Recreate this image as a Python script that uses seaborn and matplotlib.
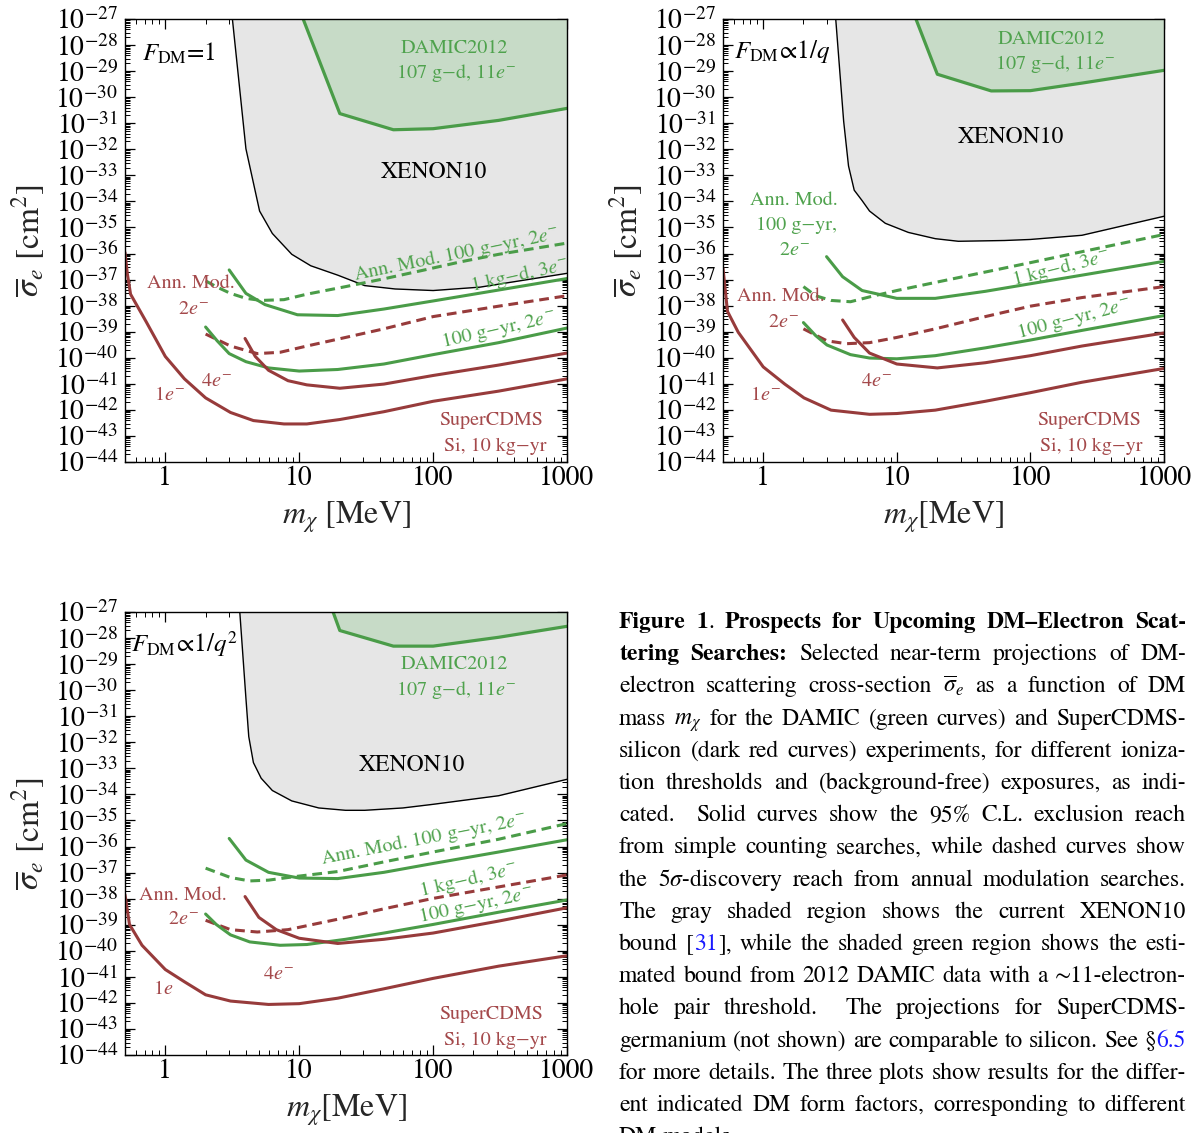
import matplotlib
matplotlib.use('Agg')
import matplotlib.pyplot as plt
import matplotlib.ticker as mticker
import seaborn as sns
import numpy as np

# figure size in pixels (dpi 100)
W, H = 1204, 1133

# ---------------- data: m_chi [MeV], log10(sigma_e / cm^2) ----------------
# panel 1: F_DM = 1
XENON_M_1 = [3.17, 4.0, 5.06, 6.3, 8.8, 12.2, 19.4, 30.8, 52, 100, 224, 1000]
XENON_S_1 = [-27.0, -31.98, -34.37, -35.23, -36.03, -36.47, -36.83, -37.23, -37.36, -37.42, -37.29, -36.76]
DAMIC_M_1 = [10.7, 20.1, 50.5, 100, 309, 1000]
DAMIC_S_1 = [-27.0, -30.63, -31.25, -31.21, -30.89, -30.43]
GAM_M_1 = [2.0, 2.44, 3.07, 4.0, 5.2, 7.7, 11.4, 22.2, 42.9, 82.8, 160, 309, 1000]
GAM_S_1 = [-37.05, -37.29, -37.53, -37.72, -37.80, -37.77, -37.56, -37.27, -36.97, -36.65, -36.32, -36.03, -35.60]
KGD_M_1 = [3.0, 4.0, 5.55, 9.7, 19.4, 42.9, 100, 309, 1000]
KGD_S_1 = [-36.63, -37.53, -37.96, -38.35, -38.38, -38.13, -37.82, -37.40, -36.96]
GYR_M_1 = [2.0, 2.44, 3.0, 4.0, 5.9, 10, 19.4, 42.9, 100, 309, 1000]
GYR_S_1 = [-38.82, -39.35, -39.84, -40.15, -40.39, -40.51, -40.45, -40.24, -39.88, -39.42, -38.86]
RAM_M_1 = [2.0, 3.07, 4.86, 7.2, 11.4, 22.2, 42.9, 100, 309, 1000]
RAM_S_1 = [-39.09, -39.55, -39.84, -39.79, -39.55, -39.22, -38.89, -38.42, -38.02, -37.62]
E4_M_1 = [3.94, 4.7, 5.9, 8.25, 11.4, 20.1, 42.9, 100, 309, 1000]
E4_S_1 = [-39.26, -39.95, -40.48, -40.88, -41.04, -41.17, -41.01, -40.68, -40.28, -39.82]
E1_M_1 = [0.5, 0.52, 0.55, 0.72, 1.0, 1.39, 2.0, 3.07, 4.55, 7.7, 11.4, 20.1, 42.9, 100, 309, 1000]
E1_S_1 = [-35.96, -36.76, -37.56, -38.62, -39.95, -40.81, -41.54, -42.10, -42.41, -42.54, -42.54, -42.37, -42.07, -41.67, -41.28, -40.81]

# panel 2: F_DM ~ 1/q
XENON_M_2 = [3.49, 4.0, 4.35, 4.8, 5.5, 6.25, 8.2, 12.2, 19.4, 28.9, 64, 100, 243, 1000]
XENON_S_2 = [-27.0, -30.92, -32.64, -33.57, -33.97, -34.37, -34.84, -35.19, -35.43, -35.53, -35.50, -35.46, -35.30, -34.57]
DAMIC_M_2 = [13.9, 20.1, 50.9, 100, 243, 1000]
DAMIC_S_2 = [-27.0, -29.12, -29.76, -29.75, -29.46, -28.97]
GAM_M_2 = [2.0, 2.47, 3.22, 4.5, 6.3, 10, 19.4, 46, 100, 243, 1000]
GAM_S_2 = [-37.27, -37.62, -37.80, -37.85, -37.66, -37.42, -37.11, -36.71, -36.35, -35.93, -35.27]
KGD_M_2 = [2.98, 3.93, 5.5, 10, 19.4, 46, 100, 243, 1000]
KGD_S_2 = [-36.12, -36.89, -37.42, -37.72, -37.72, -37.45, -37.16, -36.83, -36.30]
GYR_M_2 = [2.0, 2.47, 3.0, 4.5, 6.25, 10, 19.4, 46, 100, 243, 1000]
GYR_S_2 = [-38.65, -39.15, -39.51, -39.88, -40.01, -40.04, -39.92, -39.62, -39.32, -38.95, -38.38]
RAM_M_2 = [2.0, 3.0, 4.2, 6.25, 10, 19.4, 46, 100, 243, 1000]
RAM_S_2 = [-38.89, -39.35, -39.46, -39.42, -39.22, -38.89, -38.42, -38.02, -37.69, -37.27]
E4_M_2 = [3.93, 4.8, 6.25, 10, 20.1, 46, 100, 243, 1000]
E4_S_2 = [-38.55, -39.22, -39.82, -40.24, -40.39, -40.19, -39.92, -39.55, -39.05]
E1_M_2 = [0.5, 0.54, 0.65, 1.0, 1.45, 2.02, 3.22, 6.25, 10, 19.4, 46, 100, 243, 1000]
E1_S_2 = [-36.56, -38.22, -39.02, -40.35, -41.01, -41.54, -42.01, -42.17, -42.14, -42.01, -41.67, -41.34, -40.94, -40.41]

# panel 3: F_DM ~ 1/q^2
XENON_M_3 = [3.6, 4.0, 4.2, 4.55, 5.2, 6.3, 8.8, 14, 22.2, 30.8, 59.4, 100, 309, 1000]
XENON_S_3 = [-27.0, -30.31, -31.78, -32.78, -33.38, -33.85, -34.25, -34.52, -34.61, -34.61, -34.52, -34.38, -34.05, -33.42]
DAMIC_M_3 = [17.9, 20.1, 50.5, 100, 309, 1000]
DAMIC_S_3 = [-27.0, -27.71, -28.31, -28.31, -27.97, -27.55]
GAM_M_3 = [2.0, 3.07, 4.27, 5.9, 9.4, 19.4, 42.9, 100, 309, 1000]
GAM_S_3 = [-36.83, -37.19, -37.32, -37.29, -37.15, -36.96, -36.59, -36.21, -35.72, -35.12]
KGD_M_3 = [3.0, 4.0, 5.9, 10, 19.4, 42.9, 100, 309, 1000]
KGD_S_3 = [-35.69, -36.52, -36.99, -37.21, -37.23, -36.99, -36.65, -36.21, -35.74]
GYR_M_3 = [2.0, 2.4, 3.07, 4.27, 7.2, 11.4, 22.2, 42.9, 100, 309, 1000]
GYR_S_3 = [-38.59, -38.99, -39.39, -39.66, -39.79, -39.76, -39.56, -39.32, -38.99, -38.52, -38.05]
RAM_M_3 = [2.0, 3.07, 4.86, 8.25, 19.4, 42.9, 100, 309, 1000]
RAM_S_3 = [-38.83, -39.19, -39.28, -39.19, -38.79, -38.39, -37.99, -37.55, -37.09]
E4_M_3 = [3.94, 5.0, 6.75, 10, 19.4, 42.9, 100, 309, 1000]
E4_S_3 = [-37.92, -38.72, -39.19, -39.52, -39.72, -39.56, -39.32, -38.86, -38.35]
E1_M_3 = [0.5, 0.54, 0.67, 1.0, 1.39, 2.0, 3.07, 5.9, 10, 19.4, 42.9, 100, 309, 1000]
E1_S_3 = [-37.85, -38.99, -39.79, -40.72, -41.19, -41.69, -41.93, -42.06, -42.03, -41.82, -41.46, -41.06, -40.59, -40.19]

X_TICKS = [1, 10, 100, 1000]
Y_DECADES = list(range(-44, -26))

GREEN = '#4a9c48'
GREEN_TXT = '#4fa24d'
GREEN_FILL = '#c7dbc7'
RED = '#973b3b'
RED_TXT = '#a4494b'
GRAY_FILL = '#e6e6e6'
INK = 'black'
LINK = '#1a1aff'

sns.set_style("ticks")
plt.rcParams.update({
    'font.family': ['STIXGeneral', 'Liberation Serif', 'DejaVu Serif'],
    'mathtext.fontset': 'stix',
    'text.color': 'black',
    'axes.edgecolor': 'black',
    'axes.linewidth': 1.0,
    'xtick.color': 'black', 'ytick.color': 'black',
    'xtick.direction': 'in', 'ytick.direction': 'in',
    'xtick.top': True, 'ytick.right': True,
    'xtick.major.size': 7, 'ytick.major.size': 7,
    'xtick.minor.size': 3.5, 'ytick.minor.size': 3.5,
    'xtick.major.width': 0.9, 'ytick.major.width': 0.9,
    'xtick.minor.width': 0.7, 'ytick.minor.width': 0.7,
})

fig = plt.figure(figsize=(W / 100, H / 100), dpi=100)


def px_axes(l, t, r, b):
    return fig.add_axes([l / W, 1 - b / H, (r - l) / W, (b - t) / H])


def curve(ax, m, s, color, lw=2.2, ls='-'):
    sns.lineplot(x=np.asarray(m, float), y=10.0 ** np.asarray(s), ax=ax, color=color,
                 linewidth=lw, linestyle=ls, estimator=None, sort=False, legend=False)


def panel(ax, d, texts, xlab):
    ax.set_xscale('log')
    ax.set_yscale('log')
    xm, xs, dm, ds, gam, gas, km, ks, gm, gs, rm, rs, e4m, e4s, e1m, e1s = d
    ax.fill_between(xm, 10.0 ** np.asarray(xs), 1e-27, color=GRAY_FILL, lw=0)
    ax.fill_between(dm, 10.0 ** np.asarray(ds), 1e-27, color=GREEN_FILL, lw=0)
    curve(ax, xm, xs, 'black', lw=1.0)
    curve(ax, dm, ds, GREEN, lw=2.3)
    dash = (0, (3.2, 1.9))
    curve(ax, gam, gas, GREEN, ls=dash)
    curve(ax, rm, rs, RED, ls=dash)
    curve(ax, km, ks, GREEN)
    curve(ax, gm, gs, GREEN)
    curve(ax, e4m, e4s, RED)
    curve(ax, e1m, e1s, RED)

    ax.set_xlim(0.5, 1000)
    ax.set_ylim(1e-44, 1e-27)
    ax.xaxis.set_major_locator(mticker.FixedLocator(X_TICKS))
    ax.xaxis.set_major_formatter(mticker.FuncFormatter(lambda v, p: f"{int(round(v))}"))
    ax.xaxis.set_minor_locator(mticker.LogLocator(base=10, subs=np.arange(2, 10), numticks=50))
    ax.xaxis.set_minor_formatter(mticker.NullFormatter())
    ax.yaxis.set_major_locator(mticker.FixedLocator([10.0 ** k for k in Y_DECADES]))
    ax.yaxis.set_major_formatter(mticker.FuncFormatter(
        lambda v, p: f"$10^{{{int(round(np.log10(v)))}}}$"))
    ax.yaxis.set_minor_locator(mticker.LogLocator(base=10, subs=np.arange(2, 10), numticks=400))
    ax.yaxis.set_minor_formatter(mticker.NullFormatter())
    ax.tick_params(axis='x', which='major', labelsize=20, pad=3)
    ax.tick_params(axis='y', which='major', labelsize=20, pad=5)
    for sp in ax.spines.values():
        sp.set_visible(True)

    ax.set_xlabel(xlab, fontsize=23)
    ax.xaxis.set_label_coords(0.5, -0.126)
    ax.xaxis.label.set_va('center')
    ax.set_ylabel(r"$\overline{\sigma}_e$ [cm$^2$]", fontsize=24)
    ax.yaxis.set_label_coords(-0.22, 0.5)
    ax.yaxis.label.set_va('center')

    for x, y, s, c, fs, rot, ha in texts:
        ax.text(x, y, s, transform=ax.transAxes, color=c, fontsize=fs, rotation=rot,
                rotation_mode='anchor', ha=ha, va='center', clip_on=True)


E = r"$e^{-}$"
MINUS = "\u2212"

texts_1 = [
    (0.039, 0.922, r"$F_{\mathrm{DM}}$=1", INK, 18, 0, 'left'),
    (0.744, 0.934, "DAMIC2012", GREEN_TXT, 14.5, 0, 'center'),
    (0.750, 0.879, f"107 g{MINUS}d, 11{E}", GREEN_TXT, 14.5, 0, 'center'),
    (0.698, 0.655, "XENON10", INK, 17, 0, 'center'),
    (0.750, 0.469, f"Ann. Mod. 100 g{MINUS}yr, 2{E}", GREEN_TXT, 14.5, 11.5, 'center'),
    (0.893, 0.422, f"1 kg{MINUS}d, 3{E}", GREEN_TXT, 14.5, 12.5, 'center'),
    (0.846, 0.300, f"100 g{MINUS}yr, 2{E}", GREEN_TXT, 14.5, 12.7, 'center'),
    (0.150, 0.402, "Ann. Mod.", RED_TXT, 14.5, 0, 'center'),
    (0.154, 0.345, f"2{E}", RED_TXT, 14.5, 0, 'center'),
    (0.206, 0.181, f"4{E}", RED_TXT, 14.5, 0, 'center'),
    (0.100, 0.152, f"1{E}", RED_TXT, 14.5, 0, 'center'),
    (0.828, 0.094, "SuperCDMS", RED_TXT, 14.5, 0, 'center'),
    (0.837, 0.035, f"Si, 10 kg{MINUS}yr", RED_TXT, 14.5, 0, 'center'),
]
texts_2 = [
    (0.0245, 0.927, r"$F_{\mathrm{DM}}\!\propto\!1/q$", INK, 18, 0, 'left'),
    (0.744, 0.953, "DAMIC2012", GREEN_TXT, 14.5, 0, 'center'),
    (0.752, 0.898, f"107 g{MINUS}d, 11{E}", GREEN_TXT, 14.5, 0, 'center'),
    (0.652, 0.732, "XENON10", INK, 17, 0, 'center'),
    (0.160, 0.591, "Ann. Mod.", GREEN_TXT, 14.5, 0, 'center'),
    (0.166, 0.535, f"100 g{MINUS}yr,", GREEN_TXT, 14.5, 0, 'center'),
    (0.162, 0.477, f"2{E}", GREEN_TXT, 14.5, 0, 'center'),
    (0.766, 0.4375, f"1 kg{MINUS}d, 3{E}", GREEN_TXT, 14.5, 14, 'center'),
    (0.796, 0.324, f"100 g{MINUS}yr, 2{E}", GREEN_TXT, 14.5, 14.5, 'center'),
    (0.131, 0.373, "Ann. Mod.", RED_TXT, 14.5, 0, 'center'),
    (0.138, 0.315, f"2{E}", RED_TXT, 14.5, 0, 'center'),
    (0.348, 0.181, f"4{E}", RED_TXT, 14.5, 0, 'center'),
    (0.096, 0.152, f"1{E}", RED_TXT, 14.5, 0, 'center'),
    (0.829, 0.094, "SuperCDMS", RED_TXT, 14.5, 0, 'center'),
    (0.835, 0.035, f"Si, 10 kg{MINUS}yr", RED_TXT, 14.5, 0, 'center'),
]
texts_3 = [
    (0.013, 0.927, r"$F_{\mathrm{DM}}\!\propto\!1/q^2$", INK, 18, 0, 'left'),
    (0.744, 0.882, "DAMIC2012", GREEN_TXT, 14.5, 0, 'center'),
    (0.750, 0.825, f"107 g{MINUS}d, 11{E}", GREEN_TXT, 14.5, 0, 'center'),
    (0.650, 0.654, "XENON10", INK, 17, 0, 'center'),
    (0.677, 0.487, f"Ann. Mod. 100 g{MINUS}yr, 2{E}", GREEN_TXT, 14.5, 11, 'center'),
    (0.776, 0.394, f"1 kg{MINUS}d, 3{E}", GREEN_TXT, 14.5, 13, 'center'),
    (0.794, 0.338, f"100 g{MINUS}yr, 2{E}", GREEN_TXT, 14.5, 12, 'center'),
    (0.130, 0.360, "Ann. Mod.", RED_TXT, 14.5, 0, 'center'),
    (0.133, 0.306, f"2{E}", RED_TXT, 14.5, 0, 'center'),
    (0.347, 0.182, f"4{E}", RED_TXT, 14.5, 0, 'center'),
    (0.087, 0.149, r"1$e$", RED_TXT, 14.5, 0, 'center'),
    (0.828, 0.092, "SuperCDMS", RED_TXT, 14.5, 0, 'center'),
    (0.837, 0.034, f"Si, 10 kg{MINUS}yr", RED_TXT, 14.5, 0, 'center'),
]

ax1 = px_axes(125, 19, 567, 462)
panel(ax1, (XENON_M_1, XENON_S_1, DAMIC_M_1, DAMIC_S_1, GAM_M_1, GAM_S_1, KGD_M_1, KGD_S_1,
            GYR_M_1, GYR_S_1, RAM_M_1, RAM_S_1, E4_M_1, E4_S_1, E1_M_1, E1_S_1),
      texts_1, r"$m_\chi$ [MeV]")
ax2 = px_axes(723, 19, 1164, 462)
panel(ax2, (XENON_M_2, XENON_S_2, DAMIC_M_2, DAMIC_S_2, GAM_M_2, GAM_S_2, KGD_M_2, KGD_S_2,
            GYR_M_2, GYR_S_2, RAM_M_2, RAM_S_2, E4_M_2, E4_S_2, E1_M_2, E1_S_2),
      texts_2, r"$m_\chi$[MeV]")
ax3 = px_axes(125, 612, 567, 1055)
panel(ax3, (XENON_M_3, XENON_S_3, DAMIC_M_3, DAMIC_S_3, GAM_M_3, GAM_S_3, KGD_M_3, KGD_S_3,
            GYR_M_3, GYR_S_3, RAM_M_3, RAM_S_3, E4_M_3, E4_S_3, E1_M_3, E1_S_3),
      texts_3, r"$m_\chi$[MeV]")

# ---------------- caption (justified by hand) ----------------


def B(s):
    return [(s, 'bold', INK)]


def words(s):
    # a double space ends up as an empty item -> wider (sentence) gap
    return s.split(' ')


CAPTION = [
    [B("Figure"), [("1", 'bold', INK), (".", 'normal', INK)], B("Prospects"), B("for"),
     B("Upcoming"), B("DM\u2013Electron"), B("Scat-")],
    [B("tering"), B("Searches:")] + words("Selected near-term projections of DM-"),
    words(r"electron scattering cross-section $\overline{\sigma}_e$ as a function of DM"),
    words(r"mass $m_\chi$ for the DAMIC (green curves) and SuperCDMS-"),
    words("silicon (dark red curves) experiments, for different ioniza-"),
    words("tion thresholds and (background-free) exposures, as indi-"),
    words("cated.  Solid curves show the 95% C.L. exclusion reach"),
    words("from simple counting searches, while dashed curves show"),
    words(r"the $5\sigma$-discovery reach from annual modulation searches."),
    words("The gray shaded region shows the current XENON10"),
    words("bound") + [[("[", 'normal', INK), ("31", 'normal', LINK), ("],", 'normal', INK)]]
    + words("while the shaded green region shows the esti-"),
    words("mated bound from 2012 DAMIC data with a \u223c11-electron-"),
    words("hole pair threshold.  The projections for SuperCDMS-"),
    words("germanium (not shown) are comparable to silicon. See")
    + [[("\u00a7", 'normal', INK), ("6.5", 'normal', LINK)]],
    words("for more details. The three plots show results for the differ-"),
    words("ent indicated DM form factors, corresponding to different"),
    words("DM models."),
]

CAP_FS = 17
CAP_L, CAP_R = 619, 1186
CAP_Y0, CAP_DY = 628, 32.2

renderer = fig.canvas.get_renderer()
for i, line in enumerate(CAPTION):
    y = 1 - (CAP_Y0 + i * CAP_DY) / H
    pieces = []
    extra = 0.0
    for w in line:
        if isinstance(w, str) and w == '':
            extra += 1.0
            continue
        segs = [(w, 'normal', INK)] if isinstance(w, str) else w
        objs = []
        for t, wt, c in segs:
            objs.append(fig.text(0, y, t, fontsize=CAP_FS, fontweight=wt, color=c,
                                 ha='left', va='baseline'))
        widths = [o.get_window_extent(renderer).width for o in objs]
        pieces.append((objs, widths, (1.0 + extra) if pieces else 0.0))
        extra = 0.0
    total = sum(sum(wd) for _, wd, _ in pieces)
    weights = sum(wt for _, _, wt in pieces)
    last = i == len(CAPTION) - 1
    unit = 6.0 if last else (CAP_R - CAP_L - total) / max(weights, 1)
    x = CAP_L
    for objs, wd, wt in pieces:
        x += unit * wt
        for o, w_ in zip(objs, wd):
            o.set_x(x / W)
            x += w_

fig.savefig('out.png', dpi=100)
